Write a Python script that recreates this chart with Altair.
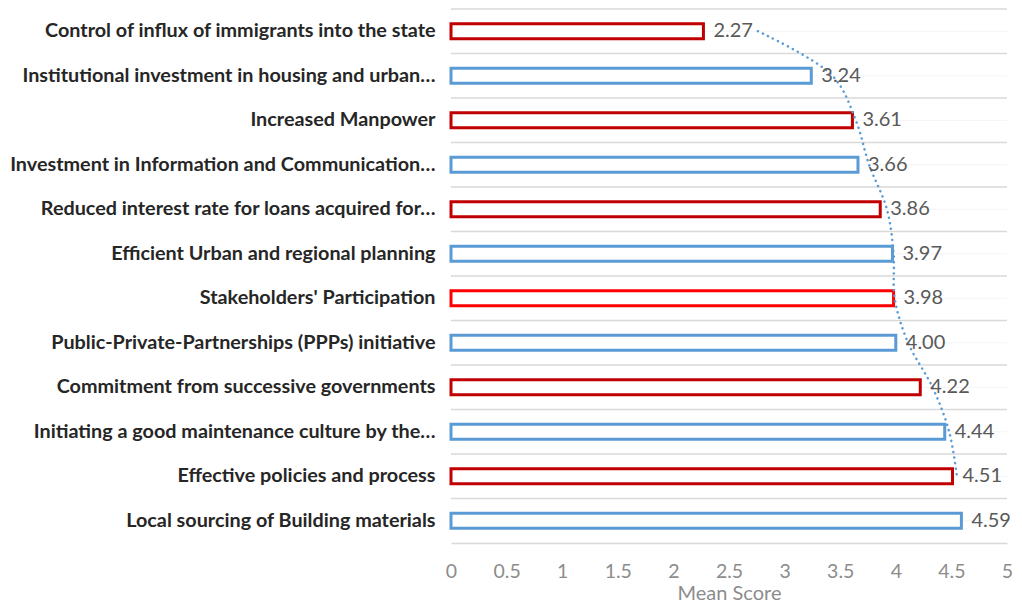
import altair as alt
import pandas as pd

categories = [
    "Control of influx of immigrants into the state",
    "Institutional investment in housing and urban…",
    "Increased Manpower",
    "Investment in Information and Communication…",
    "Reduced interest rate for loans acquired for…",
    "Efficient Urban and regional planning",
    "Stakeholders' Participation",
    "Public-Private-Partnerships (PPPs) initiative",
    "Commitment from successive governments",
    "Initiating a good maintenance culture by the…",
    "Effective policies and process",
    "Local sourcing of Building materials",
]
scores = [2.27, 3.24, 3.61, 3.66, 3.86, 3.97, 3.98, 4.00, 4.22, 4.44, 4.51, 4.59]
bar_colors = ["#C00000", "#5B9BD5", "#C00000", "#5B9BD5", "#C00000", "#5B9BD5",
              "#FF0000", "#5B9BD5", "#C00000", "#5B9BD5", "#C00000", "#5B9BD5"]
trend_categories = categories[:11]
trend_values = [2.76, 3.43, 3.64, 3.76, 3.92, 3.98, 3.99, 4.11, 4.33, 4.48, 4.55]
x_ticks = [0, 0.5, 1, 1.5, 2, 2.5, 3, 3.5, 4, 4.5, 5]

df = pd.DataFrame({"cat": categories, "score": scores, "color": bar_colors})
trend = pd.DataFrame({"cat": trend_categories, "trend": trend_values})

FONT = "Lato"
W, H = 556, 534

yscale = alt.Scale(domain=categories, paddingInner=0, paddingOuter=0)
xscale = alt.Scale(domain=[0, 5], nice=False)

y_axis = alt.Axis(labelFont=FONT, labelFontSize=19.8, labelFontWeight="bold",
                  labelColor="#262626", labelPadding=16, ticks=False,
                  domain=False, grid=False, labelLimit=450,
                  minExtent=443, maxExtent=443)
x_axis = alt.Axis(values=x_ticks, format="~g", labelFont=FONT, labelFontSize=19.5,
                  labelColor="#8C8C8C", ticks=False, grid=False,
                  domain=True, domainColor="#D9D9D9", domainWidth=1.5,
                  labelPadding=19, titleFont=FONT, titleFontSize=20,
                  titleFontWeight="normal", titleColor="#8C8C8C",
                  titlePadding=3, labelFlush=False)


def Y(band=0.5):
    return alt.Y("cat:N", scale=yscale, bandPosition=band, title=None, axis=y_axis)


def X(field):
    return alt.X(field, scale=xscale, title="Mean Score", axis=x_axis)


faint = alt.Chart(df).mark_rule(color="#F4F4F4", strokeWidth=1).encode(y=Y(0.5))
grid = alt.Chart(df).mark_rule(color="#D9D9D9", strokeWidth=1.5).encode(y=Y(0))

bars = alt.Chart(df).mark_bar(fill="white", strokeWidth=3, size=15).encode(
    y=Y(0.5),
    x=X("score:Q"),
    stroke=alt.Stroke("color:N", scale=None),
)

labels = alt.Chart(df).mark_text(align="left", baseline="middle", dx=10,
                                 font=FONT, fontSize=20, color="#595959").encode(
    y=Y(0.5),
    x=X("score:Q"),
    text=alt.Text("score:Q", format=".2f"),
)

trendline = alt.Chart(trend).mark_line(color="#5B9BD5", strokeWidth=2.5,
                                       strokeDash=[0.1, 5.5], strokeCap="round",
                                       interpolate="catmull-rom").encode(
    y=Y(0.5),
    x=X("trend:Q"),
)

chart = alt.layer(faint, grid, bars, trendline, labels).properties(
    width=W, height=H,
    padding={"left": 0, "top": 0, "right": 0, "bottom": 0},
).configure_view(stroke=None)

chart.save("out.html", embed_options={"renderer": "svg", "actions": False})
